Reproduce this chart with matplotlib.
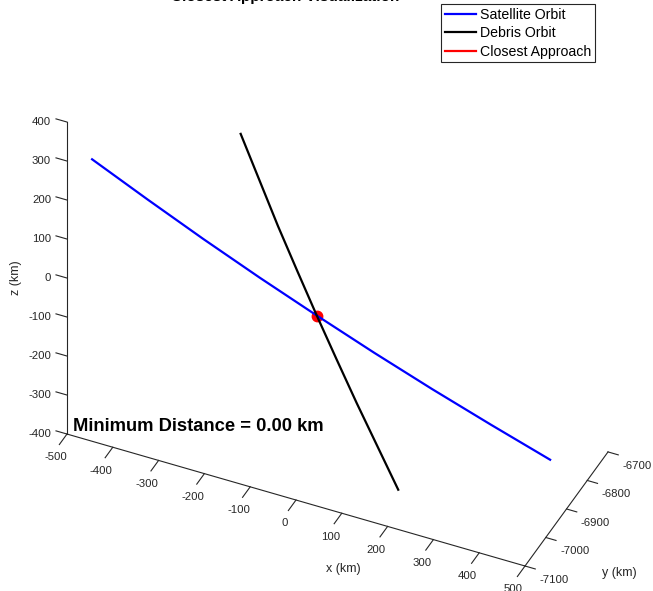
import numpy as np
import matplotlib
matplotlib.use("Agg")
import matplotlib.pyplot as plt
from matplotlib.transforms import ScaledTranslation
from mpl_toolkits.mplot3d import proj3d

plt.rcParams["font.family"] = ["Liberation Sans", "DejaVu Sans"]
plt.rcParams["axes.unicode_minus"] = False

# Orbit samples around the conjunction (km)
sat_x = [-500, -375, -250, -125, 0, 125, 250, 375, 500]
sat_y = [-6979, -6988, -6995, -6999, -7000, -6999, -6995, -6988, -6979]
sat_z = [216, 162, 108, 54, 0, -54, -108, -162, -216]

deb_x = [-172, -129, -86, -43, 0, 43, 86, 129, 172]
deb_y = [-6987, -6992, -6997, -6999, -7000, -6999, -6997, -6992, -6987]
deb_z = [398, 298, 198, 99, 0, -99, -198, -298, -398]

# Closest points on each orbit (km)
closest_sat = [0.0, -7000.0, 0.0]
closest_deb = [0.0, -7000.0, 0.0]

x_ticks = [-500, -400, -300, -200, -100, 0, 100, 200, 300, 400, 500]
y_ticks = [-7100, -7000, -6900, -6800, -6700]
z_ticks = [-400, -300, -200, -100, 0, 100, 200, 300, 400]

min_distance = float(np.linalg.norm(np.subtract(closest_sat, closest_deb)))

AX_COLOR = "#262626"
W_PX, H_PX = 653, 591

fig = plt.figure(figsize=(W_PX / 100, H_PX / 100), dpi=100)
ax = fig.add_axes([0.1, 0.1, 0.8, 0.8 * W_PX / H_PX], projection="3d",
                  proj_type="ortho")
ax.computed_zorder = False
ax.patch.set_alpha(0)

ax.plot(closest_sat[0], closest_sat[1], closest_sat[2], "o", color="#ff0000",
        ms=7.5, mec="#ff0000", zorder=1)
h_sat, = ax.plot(sat_x, sat_y, sat_z, color="#0000ff", lw=1.6, zorder=3,
                 label="Satellite Orbit")
h_deb, = ax.plot(deb_x, deb_y, deb_z, color="black", lw=1.6, zorder=4,
                 label="Debris Orbit")
h_ca, = ax.plot([closest_sat[0], closest_deb[0]], [closest_sat[1], closest_deb[1]],
                [closest_sat[2], closest_deb[2]], color="#ff0000", lw=1.6, zorder=5,
                label="Closest Approach")

ax.set_xlim(-500, 500)
ax.set_ylim(-7100, -6700)
ax.set_zlim(-400, 400)
ax.set_xticks(x_ticks)
ax.set_yticks(y_ticks)
ax.set_zticks(z_ticks)
ax.set_box_aspect((503.8, 199.4, 401.5))
ax.view_init(elev=39.0, azim=-65.4)
ax.grid(False)

# z axis on the front-left vertical edge, with ticks pointing along -x
ax.zaxis.set_ticks_position("lower")
ax.zaxis._get_tickdir = lambda position: 0

for axis in (ax.xaxis, ax.yaxis, ax.zaxis):
    axis.set_pane_color((1, 1, 1, 0))
    axis.line.set_color(AX_COLOR)
    axis.line.set_linewidth(0.8)
    axis._axinfo["tick"]["inward_factor"] = 0.0
    axis._axinfo["tick"]["linewidth"] = {True: 0.8, False: 0.5}
ax.xaxis._axinfo["tick"]["outward_factor"] = -1.15
ax.yaxis._axinfo["tick"]["outward_factor"] = -0.28
ax.zaxis._axinfo["tick"]["outward_factor"] = 0.30

ax.tick_params(axis="x", labelsize=8.2, colors=AX_COLOR, pad=5.5)
ax.tick_params(axis="y", labelsize=8.2, colors=AX_COLOR, pad=-0.3)
ax.tick_params(axis="z", labelsize=8.2, colors=AX_COLOR, pad=-0.8)
for lbl in ax.xaxis.get_majorticklabels():
    lbl.set_ha("center")
    lbl.set_va("center")
for lbl in ax.yaxis.get_majorticklabels():
    lbl.set_ha("left")
    lbl.set_va("center")
for lbl in ax.zaxis.get_majorticklabels():
    lbl.set_ha("right")
    lbl.set_va("center")

# x tick labels sit a little to the left of their ticks
_x_major_ticks = ax.xaxis.get_major_ticks


def _x_ticks_shifted(numticks=None):
    ticks = _x_major_ticks(numticks)
    shift = ScaledTranslation(-7 / 100, 0, fig.dpi_scale_trans)
    for t in ticks:
        t.label1.set_transform(ax.transData + shift)
    return ticks


ax.xaxis.get_major_ticks = _x_ticks_shifted

# Place the axes box so its corners land on the intended pixels
fig.canvas.draw()
corners = np.array([[-500, -7100, -400], [500, -7100, -400],
                    [500, -6700, -400], [-500, -7100, 400]], float)
targets = np.array([[67, 434], [525, 566], [608, 452], [67, 122]], float)
targets[:, 1] = H_PX - targets[:, 1]
px, py, _ = proj3d.proj_transform(corners[:, 0], corners[:, 1], corners[:, 2],
                                  ax.get_proj())
disp = ax.transData.transform(np.column_stack([px, py]))
bb = ax.bbox
q = (disp - [bb.x0, bb.y0]) / bb.width
qm, tm = q.mean(0), targets.mean(0)
scale = ((q - qm) * (targets - tm)).sum() / ((q - qm) ** 2).sum()
origin = tm - scale * qm
ax.set_position([origin[0] / W_PX, origin[1] / H_PX, scale / W_PX, scale / H_PX])

# Axis titles
fig.text(343 / W_PX, 1 - 569 / H_PX, "x (km)", ha="center", va="center",
         fontsize=9, color=AX_COLOR)
fig.text(619 / W_PX, 1 - 573 / H_PX, "y (km)", ha="center", va="center",
         fontsize=9, color=AX_COLOR)
fig.text(16 / W_PX, 1 - 278 / H_PX, "z (km)", ha="center", va="center",
         fontsize=9, color=AX_COLOR, rotation=90)

fig.text(73 / W_PX, 1 - 431 / H_PX, f"Minimum Distance = {min_distance:.2f} km",
         ha="left", va="baseline", fontsize=13.2, fontweight="bold", color="black")

fig.text(285 / W_PX, 1 - 0.6 / H_PX, "Closest Approach Visualization", ha="center",
         va="baseline", fontsize=11, fontweight="bold", color="black")

leg = fig.legend(handles=[h_sat, h_deb, h_ca], loc="upper left",
                 bbox_to_anchor=(441 / W_PX, 1 - 4 / H_PX),
                 bbox_transform=fig.transFigure, borderaxespad=0, fontsize=10.2,
                 handlelength=2.2, handletextpad=0.3, borderpad=0.25,
                 labelspacing=0.33, fancybox=False, edgecolor=AX_COLOR,
                 framealpha=1)
leg.get_frame().set_linewidth(0.8)

fig.savefig("out.png", dpi=100)
